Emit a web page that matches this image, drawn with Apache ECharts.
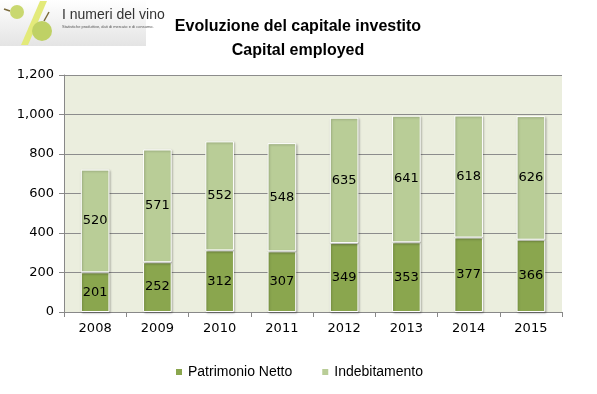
<!DOCTYPE html>
<html><head><meta charset="utf-8">
<script src="https://cdn.jsdelivr.net/npm/echarts@6/dist/echarts.min.js"></script>
<style>html,body{margin:0;padding:0;background:#fff}#c{width:597px;height:394px}</style>
</head><body><div id="c"></div>
<script>
var categories = ['2008','2009','2010','2011','2012','2013','2014','2015'];
var patrimonioNetto = [201, 252, 312, 307, 349, 353, 377, 366];
var indebitamento = [520, 571, 552, 548, 635, 641, 618, 626];
var seriesNames = ['Patrimonio Netto', 'Indebitamento'];
var titleLines = ['Evoluzione del capitale investito', 'Capital employed'];

var chart = echarts.init(document.getElementById('c'));
var lblStyle = {show: true, position: 'inside', color: '#000', fontFamily: 'DejaVu Sans', fontSize: 13};
var barStyle = function(c){ return {color: c, borderColor: '#fff', borderWidth: 1, shadowColor: 'rgba(0,0,0,0.25)', shadowBlur: 2, shadowOffsetX: 1, shadowOffsetY: 1}; };
chart.setOption({
  animation: false,
  title: {
    text: titleLines.join('\n'), left: 293, top: 10, textAlign: 'center',
    textStyle: {fontFamily: 'Liberation Sans, Arial', fontWeight: 'bold', fontSize: 16, lineHeight: 24, color: '#000'}
  },
  legend: {
    data: seriesNames, bottom: 10, left: 'center', itemWidth: 8, itemHeight: 8, itemGap: 28, icon: 'rect',
    textStyle: {fontFamily: 'Liberation Sans, Arial', fontSize: 14, color: '#000'}
  },
  grid: {left: 64, right: 35, top: 75, bottom: 82, show: true, backgroundColor: '#ebeede', borderWidth: 0},
  xAxis: {
    type: 'category', data: categories,
    axisLine: {lineStyle: {color: '#888'}},
    axisTick: {show: true, length: 5, lineStyle: {color: '#888'}},
    axisLabel: {fontFamily: 'DejaVu Sans', fontSize: 13, color: '#000', margin: 10}
  },
  yAxis: {
    type: 'value', min: 0, max: 1200, interval: 200,
    axisLine: {show: true, lineStyle: {color: '#888'}},
    axisTick: {show: true, length: 5, lineStyle: {color: '#888'}},
    splitLine: {lineStyle: {color: '#8c8c8c'}},
    axisLabel: {fontFamily: 'DejaVu Sans', fontSize: 13, color: '#000', margin: 10,
      formatter: function(v){ return v.toLocaleString('en-US'); }}
  },
  series: [
    {name: seriesNames[0], type: 'bar', stack: 's', data: patrimonioNetto, barWidth: '46%', itemStyle: barStyle('#8aa64e'), label: lblStyle},
    {name: seriesNames[1], type: 'bar', stack: 's', data: indebitamento, barWidth: '46%', itemStyle: barStyle('#b9cd97'), label: lblStyle}
  ],
  graphic: [
    {type: 'rect', left: 0, top: 0, shape: {width: 146, height: 46}, style: {fill: new echarts.graphic.LinearGradient(0,0,0,1,[{offset:0,color:'#ffffff'},{offset:1,color:'#e4e4e4'}])}, z: 0},
    {type: 'polygon', shape: {points: [[40,1],[47,1],[28,45],[21,45]]}, style: {fill: '#e3ea7a'}, z: 1},
    {type: 'circle', shape: {cx: 17, cy: 12, r: 7}, style: {fill: '#c9d870'}, z: 2},
    {type: 'circle', shape: {cx: 42, cy: 31, r: 10}, style: {fill: '#bfd165'}, z: 2},
    {type: 'line', shape: {x1: 44, y1: 21, x2: 49, y2: 12}, style: {stroke: '#7a6a3a', lineWidth: 1.5}, z: 2},
    {type: 'line', shape: {x1: 10, y1: 11, x2: 4, y2: 9}, style: {stroke: '#7a6a3a', lineWidth: 1.5}, z: 2},
    {type: 'text', left: 62, top: 8, style: {text: 'I numeri del vino', font: '14px Liberation Sans, Arial', fill: '#333'}, z: 3},
    {type: 'text', left: 62, top: 25, style: {text: 'Statistiche produttive, dati di mercato e di consumo.', font: '4px Liberation Sans', fill: '#555'}, z: 3}
  ]
});
</script></body></html>
